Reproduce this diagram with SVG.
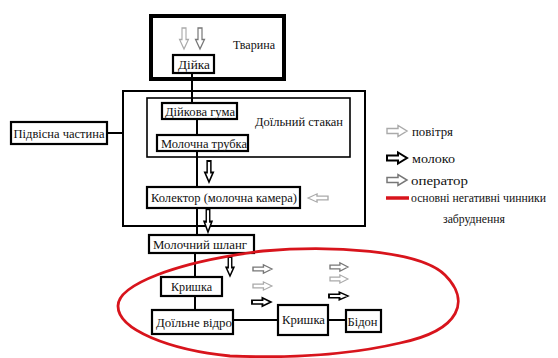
<svg xmlns="http://www.w3.org/2000/svg" width="558" height="358" viewBox="0 0 558 358" font-family="'Liberation Serif', 'DejaVu Serif', serif">
<style>
text{font-size:12px;fill:#111;}
.c{text-anchor:middle;}
.box{fill:#fff;stroke:#000;stroke-width:2.2;}
.frame{fill:none;stroke:#000;stroke-width:2;}
.ln{stroke:#000;stroke-width:2;fill:none;}
.air{fill:#fff;stroke:#aaa;stroke-width:1.4;}
.op{fill:#fff;stroke:#777;stroke-width:1.5;}
.milk{fill:#fff;stroke:#000;stroke-width:2;}
</style>
<defs>
<path id="ar" d="M0,-2.5 H11 V-5.5 L20,0 L11,5.5 V2.5 H0 Z"/>
</defs>
<rect width="558" height="358" fill="#fff"/>

<g id="frames">
<rect x="151" y="16" width="133" height="63" fill="none" stroke="#000" stroke-width="4"/>
<rect x="123" y="91" width="242" height="135" class="frame"/>
<rect x="147" y="98" width="203" height="59" fill="none" stroke="#000" stroke-width="1.6"/>
</g>

<g id="connectors">
<line x1="192" y1="73" x2="192" y2="103" class="ln"/>
<line x1="197" y1="119" x2="197" y2="135" class="ln"/>
<line x1="197" y1="151" x2="197" y2="187" class="ln"/>
<line x1="197" y1="208" x2="197" y2="235" class="ln"/>
<line x1="195" y1="253" x2="195" y2="310" class="ln"/>
<line x1="107" y1="133" x2="123" y2="133" class="ln"/>
<line x1="233" y1="320" x2="278" y2="320" class="ln"/>
<line x1="328" y1="320" x2="346" y2="320" class="ln"/>
</g>

<g id="tvaryna"><text x="254" y="49" class="c" textLength="42" lengthAdjust="spacingAndGlyphs">Тварина</text></g>
<g id="dijka"><rect x="173" y="55" width="41" height="18" class="box"/><text x="194" y="68.5" class="c" textLength="32" lengthAdjust="spacingAndGlyphs">Дійка</text></g>
<g id="stakan"><text x="299" y="126" class="c" textLength="88" lengthAdjust="spacingAndGlyphs">Доїльний стакан</text></g>
<g id="guma"><rect x="162" y="103" width="75" height="16" class="box"/><text x="200" y="115.5" class="c" textLength="70" lengthAdjust="spacingAndGlyphs">Дійкова гума</text></g>
<g id="trubka"><rect x="157" y="135" width="91" height="16" class="box"/><text x="204" y="147.5" class="c" textLength="86" lengthAdjust="spacingAndGlyphs">Молочна трубка</text></g>
<g id="pidvisna"><rect x="11" y="122" width="96" height="22" class="box"/><text x="59" y="137.5" class="c" textLength="91" lengthAdjust="spacingAndGlyphs">Підвісна частина</text></g>
<g id="kolektor"><rect x="147" y="187" width="153" height="21" class="box"/><text x="224" y="201.5" class="c" textLength="146" lengthAdjust="spacingAndGlyphs">Колектор (молочна камера)</text></g>
<g id="shlang"><rect x="149" y="235" width="105" height="18" class="box"/><text x="200" y="248.5" class="c" textLength="94" lengthAdjust="spacingAndGlyphs">Молочний шланг</text></g>
<g id="kryshka1"><rect x="161" y="277" width="61" height="19" class="box"/><text x="191.5" y="291" class="c" textLength="41" lengthAdjust="spacingAndGlyphs">Кришка</text></g>
<g id="vidro"><rect x="152" y="310" width="81" height="24" class="box"/><text x="194" y="326.5" class="c" textLength="76" lengthAdjust="spacingAndGlyphs">Доїльне відро</text></g>
<g id="kryshka2"><rect x="278" y="305" width="50" height="30" class="box"/><text x="303.5" y="324" class="c" textLength="43" lengthAdjust="spacingAndGlyphs">Кришка</text></g>
<g id="bidon"><rect x="346" y="310" width="35" height="22" class="box"/><text x="362.5" y="325.5" class="c" textLength="30" lengthAdjust="spacingAndGlyphs">Бідон</text></g>

<g id="flow-arrows">
<use href="#ar" class="air" transform="translate(184,28) rotate(90) scale(1.05,0.8)"/>
<use href="#ar" class="op" transform="translate(200,28) rotate(90) scale(1.05,0.8)"/>
<use href="#ar" class="milk" transform="translate(209,161) rotate(90) scale(1.05,0.75)"/>
<use href="#ar" class="milk" transform="translate(208,209) rotate(90) scale(1.15,0.7)"/>
<use href="#ar" class="milk" transform="translate(230,257) rotate(90) scale(0.95,0.7)"/>
<use href="#ar" class="air" transform="translate(328,198) rotate(180) scale(1,0.75)"/>
<use href="#ar" class="op" transform="translate(253,269) scale(0.95,0.75)"/>
<use href="#ar" class="air" transform="translate(253,286) scale(0.95,0.75)"/>
<use href="#ar" class="milk" transform="translate(252,302) scale(0.95,0.75)"/>
<use href="#ar" class="op" transform="translate(330,267) scale(0.9,0.75)"/>
<use href="#ar" class="air" transform="translate(330,279) scale(0.9,0.75)"/>
<use href="#ar" class="milk" transform="translate(329,296) scale(0.95,0.7)"/>
</g>

<g id="ellipse">
<path d="M118,306 C118,285 175,262 263,251 C330,245 420,250 445,275 C470,300 462,330 400,343 C340,357 280,358 230,356 C170,350 118,330 118,306 Z" fill="none" stroke="#d8141c" stroke-width="2.8"/>
</g>

<g id="legend">
<use href="#ar" class="air" transform="translate(387,131)"/>
<text x="412" y="135.5" textLength="41" lengthAdjust="spacingAndGlyphs">повітря</text>
<use href="#ar" class="milk" transform="translate(387,158)"/>
<text x="412" y="162.5" textLength="43" lengthAdjust="spacingAndGlyphs">молоко</text>
<use href="#ar" class="op" transform="translate(387,180)"/>
<text x="411" y="184.5" textLength="57" lengthAdjust="spacingAndGlyphs">оператор</text>
<line x1="386" y1="198" x2="409" y2="198" stroke="#d8141c" stroke-width="3.5"/>
<text x="411" y="202" textLength="135" lengthAdjust="spacingAndGlyphs">основні негативні чинники</text>
<text x="474" y="223" class="c" textLength="62" lengthAdjust="spacingAndGlyphs">забруднення</text>
</g>
</svg>
